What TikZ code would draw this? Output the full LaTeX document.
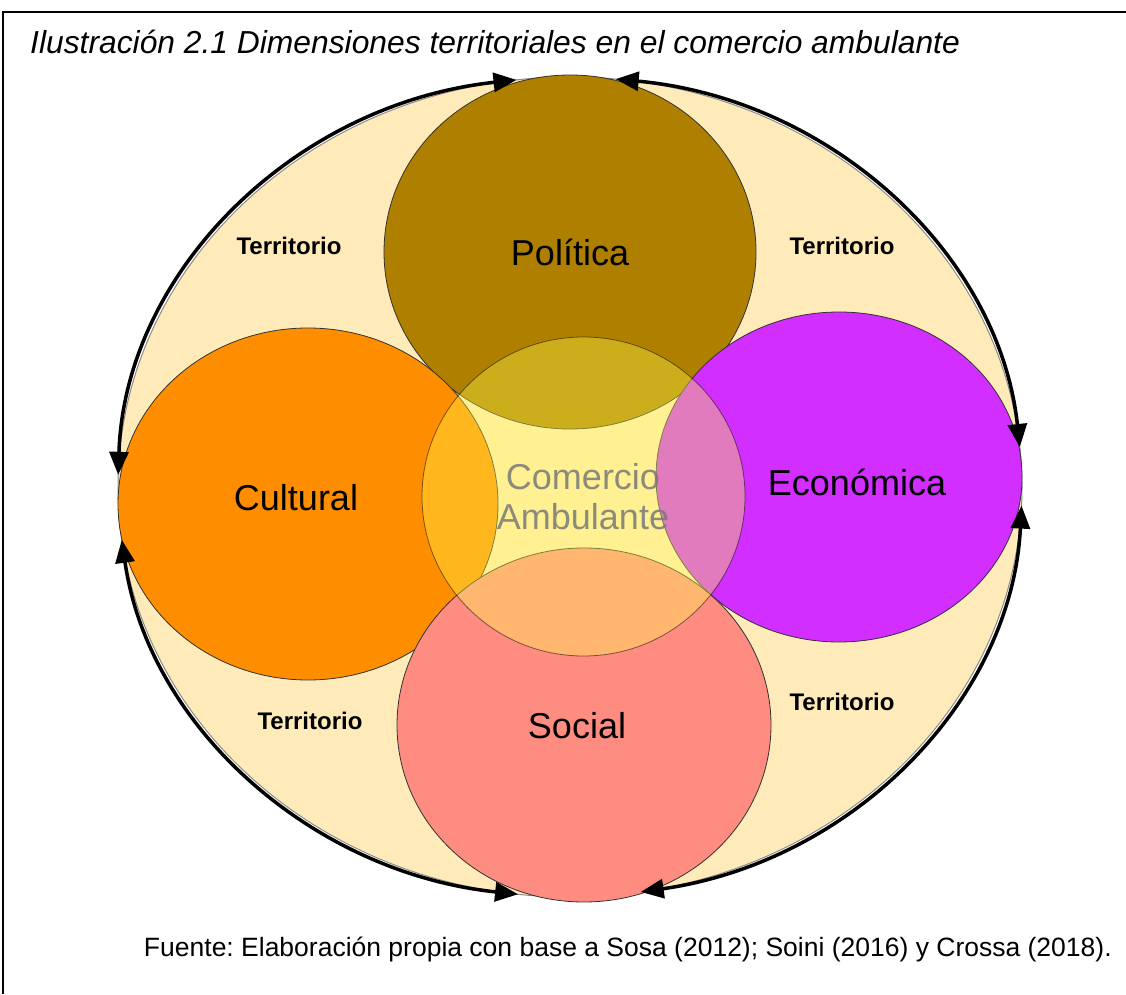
\documentclass[tikz,border=0pt]{standalone}
\usepackage{fontspec}
\setmainfont{Liberation Sans}
\frenchspacing
\usetikzlibrary{arrows.meta,shapes.geometric}
\definecolor{cream}{RGB}{255,234,185}
\definecolor{polcol}{RGB}{175,127,0}
\definecolor{culcol}{RGB}{255,141,0}
\definecolor{ecocol}{RGB}{209,46,255}
\definecolor{soccol}{RGB}{255,140,128}
\definecolor{comcol}{RGB}{255,255,80}
\definecolor{comtxt}{RGB}{120,120,120}
\tikzset{
  dimcircle/.style={ellipse, draw=black!80, line width=0.8pt, inner sep=0pt},
  dimlabel/.style={font=\fontsize{36}{40}\selectfont, text=black},
  terrlabel/.style={font=\fontsize{24}{27}\selectfont\bfseries, text=black},
  cycle arrow/.style={line width=3.5pt, {Triangle[length=23pt,width=19pt]}-{Triangle[length=23pt,width=19pt]}},
  framebar/.style={line width=2pt, black}
}
\begin{document}
\begin{tikzpicture}[x=1pt,y=1pt]
\useasboundingbox (0,0) rectangle (1126,994);
% frame
\coordinate (fa) at (3,0);
\coordinate (fc) at (3,982);
\coordinate (fb) at (1126,982);
\draw[framebar] (fa) -- (fc) -- (fb);
% territory ellipse
\node[ellipse, fill=cream, draw=black!45, line width=1pt, minimum width=904pt, minimum height=820pt, inner sep=0pt] (terr) at (570,507) {};
\coordinate (c) at (570,507);
% dimension circles
\node[dimcircle, fill=polcol, minimum width=372pt, minimum height=354pt] (pol) at (570,742) {};
\node[dimcircle, fill=culcol, minimum width=380pt, minimum height=352pt] (cul) at (308,490) {};
\node[dimcircle, fill=ecocol, minimum width=366pt, minimum height=330pt] (eco) at (839,517) {};
\node[dimcircle, fill=soccol, minimum width=374pt, minimum height=354pt] (soc) at (584,269) {};
% centre circle
\node[ellipse, fill=comcol, fill opacity=0.37, draw=black, draw opacity=0.5, line width=0.8pt, minimum width=323pt, minimum height=319pt, inner sep=0pt] (com) at (583.5,497.5) {};
% arcs with arrows
\draw[cycle arrow] ([shift={(96.8:452 and 410)}]c) arc[start angle=96.8, end angle=178.3, x radius=452, y radius=410];
\draw[cycle arrow] ([shift={(84.2:452 and 410)}]c) arc[start angle=84.2, end angle=5.6, x radius=452, y radius=410];
\draw[cycle arrow] ([shift={(-2.6:452 and 410)}]c) arc[start angle=-2.6, end angle=-81.0, x radius=452, y radius=410];
\draw[cycle arrow] ([shift={(-96.6:452 and 410)}]c) arc[start angle=-96.6, end angle=-172.6, x radius=452, y radius=410];
% labels
\node[dimlabel] (tpol) at (570,742) {Política};
\node[dimlabel] (tcul) at (296,496) {Cultural};
\node[dimlabel] (teco) at (857,512) {Económica};
\node[dimlabel] (tsoc) at (577,268) {Social};
\node[font=\fontsize{36}{40}\selectfont, text=comtxt, text opacity=0.85, align=center, inner sep=0pt] (tcom) at (583,497) {Comercio\\Ambulante};
\node[terrlabel] (t1) at (289,748) {Territorio};
\node[terrlabel] (t2) at (842,748) {Territorio};
\node[terrlabel] (t3) at (310,273) {Territorio};
\node[terrlabel] (t4) at (842,292) {Territorio};
% title and source
\node[anchor=west, inner sep=0pt, font=\fontsize{31.8}{36}\selectfont\itshape] (title) at (30,952) {Ilustración 2.1 Dimensiones territoriales en el comercio ambulante};
\node[anchor=east, inner sep=0pt, font=\fontsize{26.5}{30}\selectfont] (src) at (1112,45) {Fuente: Elaboración propia con base a Sosa (2012); Soini (2016) y Crossa (2018).};
\end{tikzpicture}
\end{document}
